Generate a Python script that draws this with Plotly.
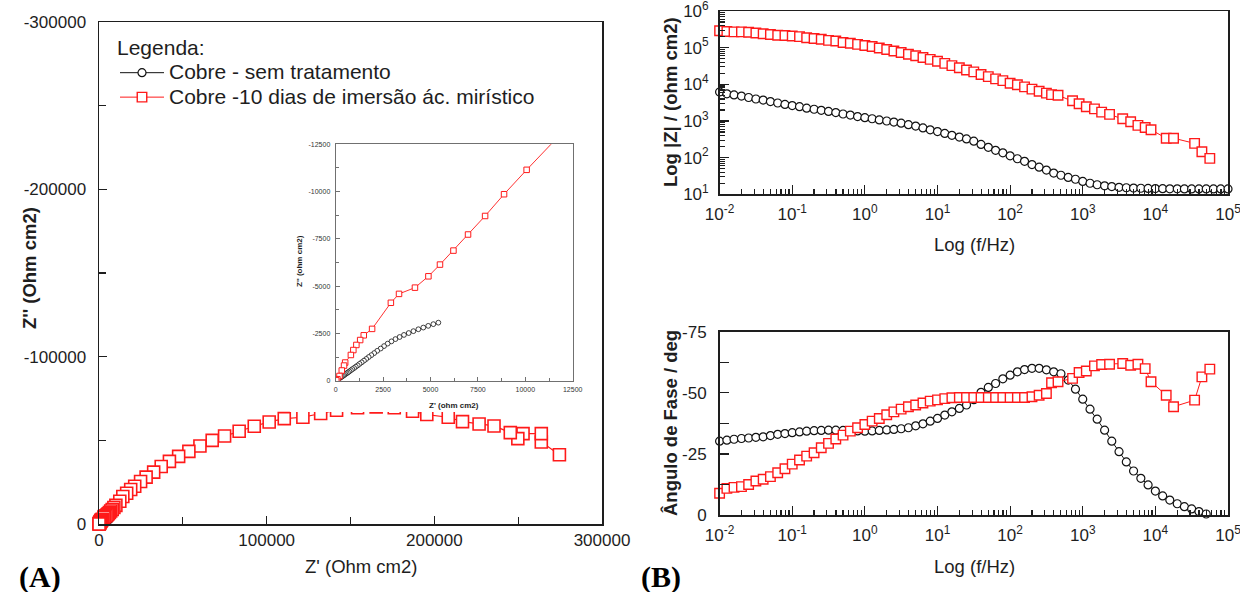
import plotly.graph_objects as go

W, H = 1240, 592

# ---------------- data ----------------
# Panel A – Nyquist, copper without treatment (low f -> high f)
nyq_bare_zre = [5415, 5150, 4880, 4620, 4360, 4100, 3850, 3600, 3370, 3150,
                2940, 2740, 2550, 2370, 2190, 2030, 1880, 1740, 1610, 1490,
                1370, 1260, 1160, 1060, 970, 880, 800, 720, 650, 580,
                510, 450, 390, 330, 280, 230, 185, 145, 110, 80,
                55, 35, 20, 15, 14]
nyq_bare_zim = [-3069, -2990, -2900, -2810, -2720, -2620, -2520, -2420, -2310, -2200,
                -2080, -1960, -1830, -1700, -1580, -1460, -1350, -1250, -1150, -1060,
                -970, -890, -810, -740, -670, -610, -550, -490, -440, -390,
                -345, -300, -260, -220, -185, -150, -120, -95, -70, -50,
                -30, -15, -5, -2, -1]

# Panel A – Nyquist, copper after 10 days in myristic acid (low f -> high f)
nyq_myr_zre = [274600, 263800, 263800, 252900, 249800, 245300, 235600, 226700, 216800, 208300,
               195500, 187000, 176100, 165300, 154200, 141700, 132200, 121600, 110500, 101500,
               92600, 83600, 74900, 67500, 60200, 53600, 47500, 42000, 37100, 32600,
               28100, 24800, 21300, 18900, 16500, 14200, 12400,
               10070, 8880, 7880, 6980, 6210, 5500, 4890, 4180, 3340, 2910,
               1920, 1480, 1290, 1090, 930, 800, 500, 440, 320, 200, 90, 30]
nyq_myr_zim = [-41400, -49000, -54000, -54000, -51000, -54600, -58600, -59800, -61200, -63800,
               -65400, -67400, -69500, -70000, -69500, -68000, -66000, -63800, -63000, -61000,
               -58400, -55400, -52600, -50000, -46600, -43400, -40400, -37400, -34400, -31000,
               -28000, -25400, -22600, -20600, -18400, -16400, -13600,
               -11150, -9860, -8710, -7730, -6880, -6140, -5520, -4920, -4590, -4120,
               -2740, -2400, -2150, -1890, -1620, -1360, -960, -800, -540, -250, -80, -20]

# Panel B – Bode, copper without treatment
freq_bare = [0.01, 0.0126, 0.0158, 0.02, 0.0251, 0.0316, 0.0398, 0.0501, 0.0631, 0.0794,
             0.1, 0.126, 0.158, 0.2, 0.251, 0.316, 0.398, 0.501, 0.631, 0.794,
             1, 1.26, 1.58, 2, 2.51, 3.16, 3.98, 5.01, 6.31, 7.94,
             10, 12.6, 15.8, 20, 25.1, 31.6, 39.8, 50.1, 63.1, 79.4,
             100, 126, 158, 200, 251, 316, 398, 501, 631, 794,
             1000, 1260, 1580, 2000, 2510, 3160, 3980, 5010, 6310, 7940,
             10000, 12600, 15800, 20000, 25100, 31600, 39800, 50100, 63100, 79400,
             100000]
zmod_bare = [6170, 5500, 5130, 4790, 4370, 3980, 3720, 3390, 3090, 2820,
             2630, 2460, 2240, 2090, 1950, 1820, 1700, 1550, 1450, 1320,
             1230, 1150, 1070, 1000, 933, 871, 794, 724, 646, 575,
             513, 457, 407, 363, 324, 282, 229, 191, 158, 135,
             112, 93.3, 79.4, 64.6, 55.0, 45.7, 38.0, 33.1, 28.8, 25.7,
             22.4, 20.0, 18.2, 17.0, 16.2, 15.5, 15.1, 14.8, 14.6, 14.5,
             14.3, 14.2, 14.1, 14.1, 14.0, 14.0, 14.0, 14.0, 14.0, 14.0,
             14.0]
phase_bare = [-30.2, -30.6, -31.0, -31.3, -31.5, -31.8, -32.0, -32.5, -33.0, -33.3,
              -33.7, -34.0, -34.3, -34.5, -34.6, -34.7, -34.7, -34.6, -34.5, -34.4,
              -34.3, -34.4, -34.6, -34.8, -35.0, -35.3, -35.7, -36.5, -37.3, -38.4,
              -39.5, -40.9, -42.2, -43.6, -45.0, -47.2, -50.2, -52.2, -53.8, -55.7,
              -57.2, -58.6, -59.5, -60.0, -60.0, -59.4, -58.6, -57.8, -55.2, -51.5,
              -47.4, -43.3, -39.2, -34.7, -30.2, -25.9, -21.7, -18.0, -15.0, -12.3,
              -9.8, -7.8, -6.1, -4.6, -3.4, -2.5, -1.4, -0.4, None, None,
              None]

# Panel B – Bode, copper after 10 days in myristic acid
freq_myr = [0.01, 0.0126, 0.0158, 0.02, 0.0251, 0.0316, 0.0398, 0.0501, 0.0631, 0.0794,
            0.1, 0.126, 0.158, 0.2, 0.251, 0.316, 0.398, 0.501, 0.631, 0.794,
            1, 1.26, 1.58, 2, 2.51, 3.16, 3.98, 5.01, 6.31, 7.94,
            10, 12.6, 15.8, 20, 25.1, 31.6, 39.8, 50.1, 63.1, 79.4,
            100, 126, 158, 200, 251, 316,
            372, 457, 724, 891, 1120, 1450, 1820, 2340, 3550, 4570,
            5750, 7240, 8710, 14100, 17800, 34700, 43700, 56200]
zmod_myr = [288400, 275400, 269200, 269200, 263000, 251200, 239900, 229100, 218800, 213800,
            208900, 199500, 186200, 177800, 169800, 158500, 151400, 138000, 131800, 123000,
            114800, 107200, 97700, 89100, 81300, 74100, 66100, 60300, 53700, 47900,
            42700, 37200, 32400, 28200, 24500, 21900, 18600, 16200, 14100, 12600,
            10700, 9770, 8510, 7410, 6460, 5750,
            5250, 5010, 3550, 2950, 2450, 2140, 1740, 1510, 1150, 955,
            759, 661, 575, 339, 339, 245, 145, 95.5]
phase_myr = [-8.9, -10.9, -11.3, -11.6, -12.5, -13.9, -14.6, -15.7, -17.3, -18.9,
             -20.8, -22.5, -24.1, -25.5, -27.5, -29.3, -31.1, -32.7, -34.3, -35.7,
             -37.0, -38.4, -39.5, -41.0, -42.2, -43.3, -44.3, -45.0, -45.8, -46.6,
             -47.1, -47.6, -48.0, -48.1, -48.1, -48.1, -48.1, -48.1, -48.1, -48.1,
             -48.1, -48.1, -48.1, -48.4, -49.0, -49.7,
             -54.1, -54.5, -55.9, -58.3, -58.9, -61.0, -61.6, -61.7, -62.0, -61.3,
             -61.7, -59.9, -54.5, -49.0, -44.3, -47.0, -56.5, -59.7]

name_bare = "Cobre - sem tratamento"
name_myr = "Cobre -10 dias de imersão ác. mirístico"
legend_title = "Legenda:"

# tick labels
nyq_x_ticks = [0, 100000, 200000, 300000]
nyq_x_labels = ["0", "100000", "200000", "300000"]
nyq_y_ticks = [0, -100000, -200000, -300000]
nyq_y_labels = ["0", "-100000", "-200000", "-300000"]
ins_x_ticks = [0, 2500, 5000, 7500, 10000, 12500]
ins_x_labels = ["0", "2500", "5000", "7500", "10000", "12500"]
ins_y_ticks = [0, -2500, -5000, -7500, -10000, -12500]
ins_y_labels = ["0", "-2500", "-5000", "-7500", "-10000", "-12500"]
freq_ticks = [0.01, 0.1, 1, 10, 100, 1000, 10000, 100000]
freq_labels = ["10<sup>-2</sup>", "10<sup>-1</sup>", "10<sup>0</sup>", "10<sup>1</sup>",
               "10<sup>2</sup>", "10<sup>3</sup>", "10<sup>4</sup>", "10<sup>5</sup>"]
zmod_ticks = [10, 100, 1000, 10000, 100000, 1000000]
zmod_labels = ["10<sup>1</sup>", "10<sup>2</sup>", "10<sup>3</sup>", "10<sup>4</sup>",
               "10<sup>5</sup>", "10<sup>6</sup>"]
phase_ticks = [0, -25, -50, -75]
phase_labels = ["0", "-25", "-50", "-75"]

# ---------------- helpers ----------------
def fx(p):
    return p / W


def fy(p):
    return 1 - p / H


def big(t):
    return "<span style='font-size:21px'>" + t + "</span>"


RED = "#ff1a1a"
BLK = "#111111"
AX = "#1e1e1e"
FONT = "Liberation Sans"

log_minor = [m * 10 ** e for e in range(-2, 6) for m in range(2, 10)]


def axis(**kw):
    d = dict(showline=True, linecolor=AX, linewidth=1.5, mirror=True,
             ticks="inside", tickcolor=AX, tickwidth=1.2, ticklen=8,
             showgrid=False, zeroline=False, fixedrange=True, automargin=False,
             ticklabeloverflow="allow",
             tickfont=dict(family=FONT, size=17, color=AX))
    d.update(kw)
    return d


def circ(size, width):
    return dict(symbol="circle", size=size, color="white", line=dict(color=BLK, width=width))


def sq(size, width):
    return dict(symbol="square", size=size, color="white", line=dict(color=RED, width=width))


fig = go.Figure()

# Panel A main
fig.add_trace(go.Scatter(x=nyq_bare_zre, y=nyq_bare_zim, xaxis="x", yaxis="y",
                         mode="lines+markers", name=name_bare, showlegend=False,
                         line=dict(color=BLK, width=1), marker=circ(10, 1.3),
                         cliponaxis=False))
fig.add_trace(go.Scatter(x=nyq_myr_zre, y=nyq_myr_zim, xaxis="x", yaxis="y",
                         mode="lines+markers", name=name_myr, showlegend=False,
                         line=dict(color=RED, width=1.2), marker=sq(12, 1.6),
                         cliponaxis=False))
# white box behind the inset (covers main curve under the inset and its labels)
fig.add_trace(go.Scatter(x=[], y=[], xaxis="x2", yaxis="y2", showlegend=False, hoverinfo="skip"))
# inset
fig.add_trace(go.Scatter(x=nyq_bare_zre, y=nyq_bare_zim, xaxis="x3", yaxis="y3",
                         mode="lines+markers", name=name_bare, showlegend=False,
                         line=dict(color=BLK, width=0.8), marker=circ(4.8, 0.8)))
fig.add_trace(go.Scatter(x=nyq_myr_zre, y=nyq_myr_zim, xaxis="x3", yaxis="y3",
                         mode="lines+markers", name=name_myr, showlegend=False,
                         line=dict(color=RED, width=0.9), marker=sq(5.5, 1)))
# Bode |Z|
fig.add_trace(go.Scatter(x=freq_bare, y=zmod_bare, xaxis="x4", yaxis="y4",
                         mode="lines+markers", name=big(name_bare),
                         line=dict(color=BLK, width=1), marker=circ(8, 1.2),
                         cliponaxis=False))
fig.add_trace(go.Scatter(x=freq_myr, y=zmod_myr, xaxis="x4", yaxis="y4",
                         mode="lines+markers", name=big(name_myr),
                         line=dict(color=RED, width=1), marker=sq(9.5, 1.4),
                         cliponaxis=False))
# Bode phase
fig.add_trace(go.Scatter(x=freq_bare, y=phase_bare, xaxis="x5", yaxis="y5",
                         mode="lines+markers", name=name_bare, showlegend=False,
                         line=dict(color=BLK, width=1), marker=circ(8, 1.2),
                         cliponaxis=False))
fig.add_trace(go.Scatter(x=freq_myr, y=phase_myr, xaxis="x5", yaxis="y5",
                         mode="lines+markers", name=name_myr, showlegend=False,
                         line=dict(color=RED, width=1), marker=sq(9.5, 1.4),
                         cliponaxis=False))

layout = dict(
    width=W, height=H, margin=dict(l=0, r=0, t=0, b=0, pad=0, autoexpand=False),
    paper_bgcolor="white", plot_bgcolor="white",
    font=dict(family=FONT, color=AX),
    showlegend=True,
    legend=dict(x=fx(115), y=fy(34), xanchor="left", yanchor="top",
                bgcolor="rgba(0,0,0,0)", borderwidth=0,
                font=dict(family=FONT, size=16.5, color=AX),
                title=dict(text=big(legend_title), font=dict(family=FONT, size=16.5, color=AX)),
                itemwidth=44, tracegroupgap=0),
    # main Nyquist
    xaxis=axis(domain=[fx(99), fx(602)], range=[0, 300000], anchor="y",
               tickmode="array", tickvals=nyq_x_ticks, ticktext=nyq_x_labels,
               ticklabelstandoff=0,
               minor=dict(tickvals=[50000, 150000, 250000], ticks="inside", ticklen=7, tickcolor=AX)),
    yaxis=axis(domain=[fy(524), fy(22)], range=[0, -300000], anchor="x",
               tickmode="array", tickvals=nyq_y_ticks, ticktext=nyq_y_labels,
               ticklabelstandoff=8,
               minor=dict(tickvals=[-50000, -150000, -250000], ticks="inside", ticklen=7, tickcolor=AX)),
    # white cover behind inset
    xaxis2=dict(domain=[fx(290), fx(592)], range=[0, 1], anchor="y2", showline=False, automargin=False,
                showticklabels=False, ticks="", showgrid=False, zeroline=False, fixedrange=True),
    yaxis2=dict(domain=[fy(412), fy(132)], range=[0, 1], anchor="x2", showline=False, automargin=False,
                showticklabels=False, ticks="", showgrid=False, zeroline=False, fixedrange=True),
    # inset
    xaxis3=axis(domain=[fx(335.7), fx(572.7)], range=[0, 12500], anchor="y3",
                linecolor="#707070", linewidth=1, tickcolor="#707070", ticklen=4, tickwidth=1,
                tickmode="array", tickvals=ins_x_ticks, ticktext=ins_x_labels,
                tickfont=dict(family=FONT, size=7, color="#333"), ticklabelstandoff=2,
                minor=dict(tickvals=[1250, 3750, 6250, 8750, 11250], ticks="inside", ticklen=3,
                           tickcolor="#707070")),
    yaxis3=axis(domain=[fy(380.7), fy(144.3)], range=[0, -12500], anchor="x3",
                linecolor="#707070", linewidth=1, tickcolor="#707070", ticklen=4, tickwidth=1,
                tickmode="array", tickvals=ins_y_ticks, ticktext=ins_y_labels,
                tickfont=dict(family=FONT, size=7, color="#333"), ticklabelstandoff=3,
                minor=dict(tickvals=[-1250, -3750, -6250, -8750, -11250], ticks="inside", ticklen=3,
                           tickcolor="#707070")),
    # Bode |Z|
    xaxis4=axis(type="log", domain=[fx(719.6), fx(1228)], range=[-2, 5], anchor="y4",
                tickmode="array", tickvals=freq_ticks, ticktext=freq_labels, ticklen=9,
                ticklabelstandoff=4,
                minor=dict(tickvals=log_minor, ticks="inside", ticklen=5, tickcolor=AX)),
    yaxis4=axis(type="log", domain=[fy(194.3), fy(11)], range=[1, 6], anchor="x4",
                tickmode="array", tickvals=zmod_ticks, ticktext=zmod_labels, ticklen=9,
                ticklabelstandoff=6,
                minor=dict(tickvals=log_minor, ticks="inside", ticklen=5, tickcolor=AX)),
    # Bode phase
    xaxis5=axis(type="log", domain=[fx(719.6), fx(1228)], range=[-2, 5], anchor="y5",
                tickmode="array", tickvals=freq_ticks, ticktext=freq_labels, ticklen=9,
                ticklabelstandoff=4,
                minor=dict(tickvals=log_minor, ticks="inside", ticklen=5, tickcolor=AX)),
    yaxis5=axis(domain=[fy(515), fy(331.7)], range=[0, -75], anchor="x5",
                tickmode="array", tickvals=phase_ticks, ticktext=phase_labels, ticklen=9,
                ticklabelstandoff=8,
                minor=dict(tickvals=[-12.5, -37.5, -62.5], ticks="inside", ticklen=9, tickcolor=AX)),
)
fig.update_layout(**layout)


def note(text, x, y, size, angle=0, family=FONT, color=AX):
    fig.add_annotation(text=text, x=fx(x), y=fy(y), xref="paper", yref="paper",
                       xanchor="center", yanchor="middle", showarrow=False, textangle=angle,
                       font=dict(family=family, size=size, color=color))


note("Z' (Ohm cm2)", 361, 566, 18.5)
note("<b>Z'' (Ohm cm2)</b>", 30, 268, 18.5, angle=-90)
note("<b>Z' (ohm cm2)</b>", 454, 405, 8)
note("<b>Z'' (ohm cm2)</b>", 299, 261, 8, angle=-90)
note("Log (f/Hz)", 974, 244, 18.5)
note("<b>Log |Z| / (ohm cm2)</b>", 671, 102, 18.5, angle=-90)
note("Log (f/Hz)", 974, 566, 18.5)
note("<b>Ângulo de Fase / deg</b>", 671, 423, 18.5, angle=-90)
note("<b>(A)</b>", 40, 577, 30, family="Liberation Serif", color="#000")
note("<b>(B)</b>", 661, 577, 30, family="Liberation Serif", color="#000")

fig.write_html("out.html", config={"displayModeBar": False, "staticPlot": True},
               post_script="document.body.style.margin='0';document.body.style.overflow='hidden';")
